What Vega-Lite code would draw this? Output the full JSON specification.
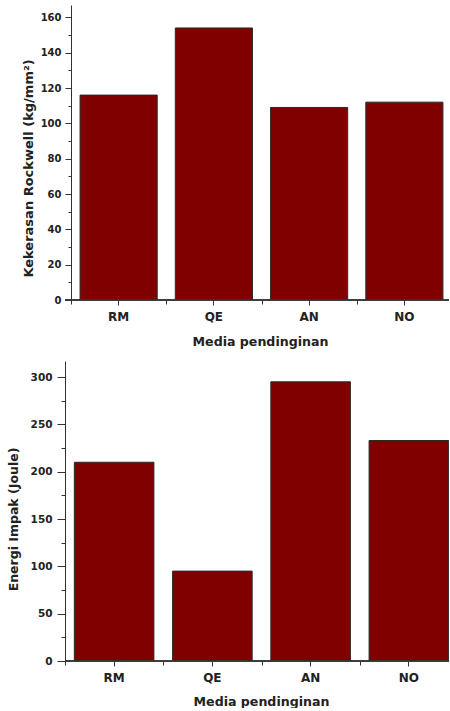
{
  "$schema": "https://vega.github.io/schema/vega-lite/v6.json",
  "padding": {"left": 7, "top": 5, "right": 0, "bottom": 0},
  "spacing": 13,
  "config": {
    "view": {"stroke": null},
    "font": "DejaVu Sans",
    "axis": {"grid": false, "domainColor": "#333333", "tickColor": "#333333", "labelColor": "#222222", "titleColor": "#222222", "labelFont": "DejaVu Sans", "titleFont": "DejaVu Sans"}
  },
  "vconcat": [
    {
      "width": 384,
      "height": 295,
      "data": {"values": [
        {"media": "RM", "kekerasan": 116},
        {"media": "QE", "kekerasan": 154},
        {"media": "AN", "kekerasan": 109},
        {"media": "NO", "kekerasan": 112}
      ]},
      "layer": [
        {
          "mark": {"type": "bar", "fill": "#800000", "stroke": "#2a2a2a", "strokeWidth": 1, "clip": true},
          "encoding": {
            "x": {"field": "media", "type": "nominal", "sort": null,
              "scale": {"range": [6, 387], "paddingInner": 0.19, "paddingOuter": 0.095},
              "axis": {"orient": "bottom", "title": "Media pendinginan", "domain": false, "labelAngle": 0, "tickSize": 5, "labelPadding": 6, "labelFontSize": 12, "labelFontWeight": "bold", "titleFontSize": 12.6, "titleFontWeight": "bold", "titlePadding": 13, "titleX": 195}},
            "y": {"field": "kekerasan", "type": "quantitative",
              "scale": {"domain": [0, 167], "nice": false},
              "axis": {"orient": "left", "title": "Kekerasan Rockwell (kg/mm²)", "values": [0, 20, 40, 60, 80, 100, 120, 140, 160], "offset": -6, "tickSize": 6, "labelPadding": 4, "labelFontSize": 10, "labelFontWeight": "bold", "titleFontSize": 13, "titleFontWeight": "bold", "titlePadding": 5, "titleY": 163}}
          }
        },
        {
          "mark": {"type": "rule", "color": "#333333", "strokeWidth": 1},
          "encoding": {"y": {"datum": 0, "type": "quantitative", "axis": null, "scale": {"domain": [0, 167], "nice": false}}}
        },
        {
          "mark": {"type": "bar", "opacity": 0},
          "encoding": {
            "x": {"field": "media", "type": "nominal", "sort": null,
              "scale": {"range": [6, 387], "paddingInner": 0.19, "paddingOuter": 0.095},
              "axis": {"orient": "bottom", "title": null, "labels": false, "domain": false, "tickSize": 4, "tickOffset": -47.6}},
            "y": {"field": "kekerasan", "type": "quantitative",
              "scale": {"domain": [0, 167], "nice": false},
              "axis": {"orient": "left", "title": null, "labels": false, "domain": false, "values": [10, 30, 50, 70, 90, 110, 130, 150], "offset": -6, "tickSize": 3}}
          }
        }
      ],
      "resolve": {"axis": {"x": "independent", "y": "independent"}}
    },
    {
      "width": 384,
      "height": 300,
      "data": {"values": [
        {"media": "RM", "energi": 210},
        {"media": "QE", "energi": 95},
        {"media": "AN", "energi": 295},
        {"media": "NO", "energi": 233}
      ]},
      "layer": [
        {
          "mark": {"type": "bar", "fill": "#800000", "stroke": "#2a2a2a", "strokeWidth": 1, "clip": true},
          "encoding": {
            "x": {"field": "media", "type": "nominal", "sort": null,
              "scale": {"range": [0, 393], "paddingInner": 0.19, "paddingOuter": 0.095},
              "axis": {"orient": "bottom", "title": "Media pendinginan", "domain": false, "labelAngle": 0, "tickSize": 5, "labelPadding": 6, "labelFontSize": 12, "labelFontWeight": "bold", "titleFontSize": 12.6, "titleFontWeight": "bold", "titlePadding": 12, "titleX": 196}},
            "y": {"field": "energi", "type": "quantitative",
              "scale": {"domain": [0, 317], "nice": false},
              "axis": {"orient": "left", "title": "Energi Impak (Joule)", "values": [0, 50, 100, 150, 200, 250, 300], "tickSize": 8, "labelPadding": 5, "labelFontSize": 10.5, "labelFontWeight": "bold", "titleFontSize": 12.5, "titleFontWeight": "bold", "titlePadding": 10, "titleY": 158}}
          }
        },
        {
          "mark": {"type": "rule", "color": "#333333", "strokeWidth": 1},
          "encoding": {"y": {"datum": 0, "type": "quantitative", "axis": null, "scale": {"domain": [0, 317], "nice": false}}}
        },
        {
          "mark": {"type": "bar", "opacity": 0},
          "encoding": {
            "x": {"field": "media", "type": "nominal", "sort": null,
              "scale": {"range": [0, 393], "paddingInner": 0.19, "paddingOuter": 0.095},
              "axis": {"orient": "bottom", "title": null, "labels": false, "domain": false, "tickSize": 4, "tickOffset": -49.1}},
            "y": {"field": "energi", "type": "quantitative",
              "scale": {"domain": [0, 317], "nice": false},
              "axis": {"orient": "left", "title": null, "labels": false, "domain": false, "values": [25, 75, 125, 175, 225, 275], "tickSize": 4}}
          }
        }
      ],
      "resolve": {"axis": {"x": "independent", "y": "independent"}}
    }
  ]
}
